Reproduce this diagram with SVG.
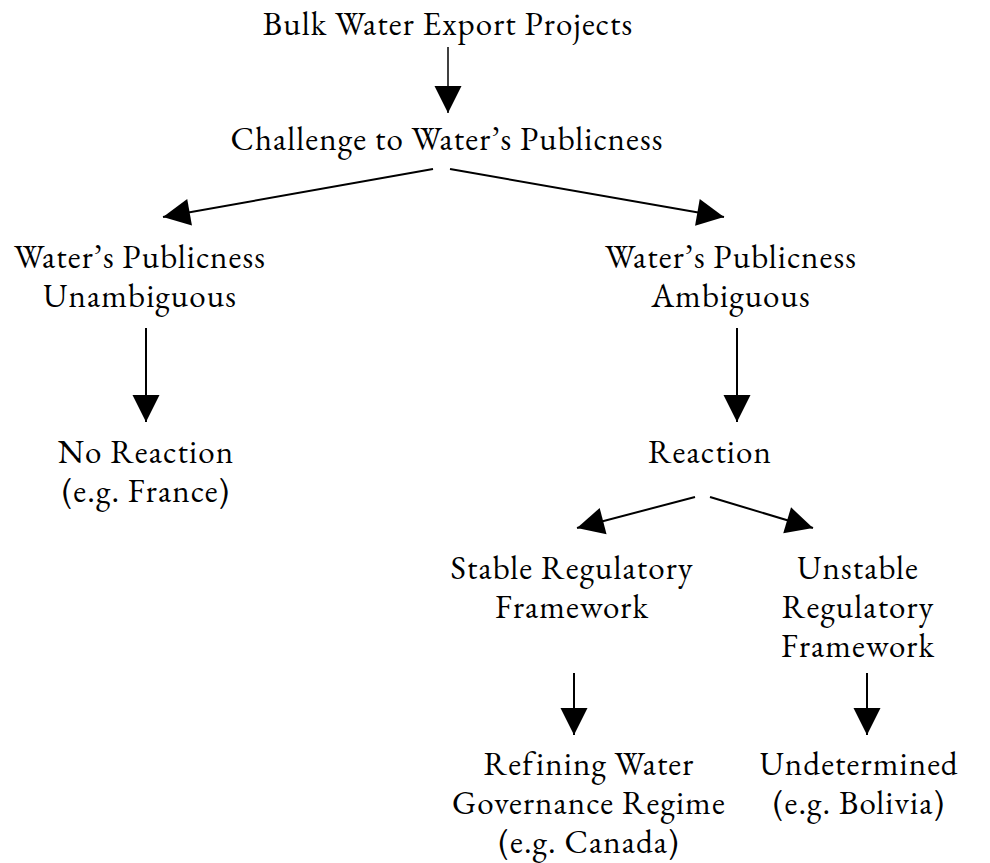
<svg xmlns="http://www.w3.org/2000/svg" width="990" height="863" viewBox="0 0 990 863">
<style>
text{font-family:"EB Garamond","Liberation Serif","Times New Roman",serif;font-size:33px;letter-spacing:1.1px;fill:#000;text-anchor:middle}
.c line{stroke:#000;stroke-width:2;marker-end:url(#ah)}
</style>
<defs>
<marker id="ah" markerUnits="userSpaceOnUse" markerWidth="28" markerHeight="28" refX="27" refY="13.5" orient="auto" overflow="visible">
<path d="M0,0 L27,13.5 L0,27 z" fill="#000"/>
</marker>
</defs>
<rect width="990" height="863" fill="#fff"/>
<g id="n1"><text x="448" y="35">Bulk Water Export Projects</text></g>
<g id="n2"><text x="447" y="150">Challenge to Water’s Publicness</text></g>
<g id="n3"><text x="140" y="268">Water’s Publicness</text><text x="140" y="307">Unambiguous</text></g>
<g id="n4"><text x="731" y="268">Water’s Publicness</text><text x="731" y="307">Ambiguous</text></g>
<g id="n5"><text x="146" y="463">No Reaction</text><text x="146" y="502">(e.g. France)</text></g>
<g id="n6"><text x="710" y="463">Reaction</text></g>
<g id="n7"><text x="572" y="579">Stable Regulatory</text><text x="572" y="618">Framework</text></g>
<g id="n8"><text x="858" y="579">Unstable</text><text x="858" y="618">Regulatory</text><text x="858" y="657">Framework</text></g>
<g id="n9"><text x="589" y="775">Refining Water</text><text x="589" y="814">Governance Regime</text><text x="589" y="853">(e.g. Canada)</text></g>
<g id="n10"><text x="859" y="775">Undetermined</text><text x="859" y="814">(e.g. Bolivia)</text></g>
<g class="c" id="connectors">
<line x1="448" y1="47" x2="448" y2="113" style="stroke-width:1.5"/>
<line x1="433" y1="169" x2="163" y2="217"/>
<line x1="450" y1="169" x2="724" y2="217"/>
<line x1="146" y1="328" x2="146" y2="422"/>
<line x1="737" y1="328" x2="737" y2="422"/>
<line x1="695" y1="497" x2="577" y2="528"/>
<line x1="710" y1="497" x2="813" y2="528"/>
<line x1="574" y1="673" x2="574" y2="735"/>
<line x1="867" y1="673" x2="867" y2="735"/>
</g>
</svg>
